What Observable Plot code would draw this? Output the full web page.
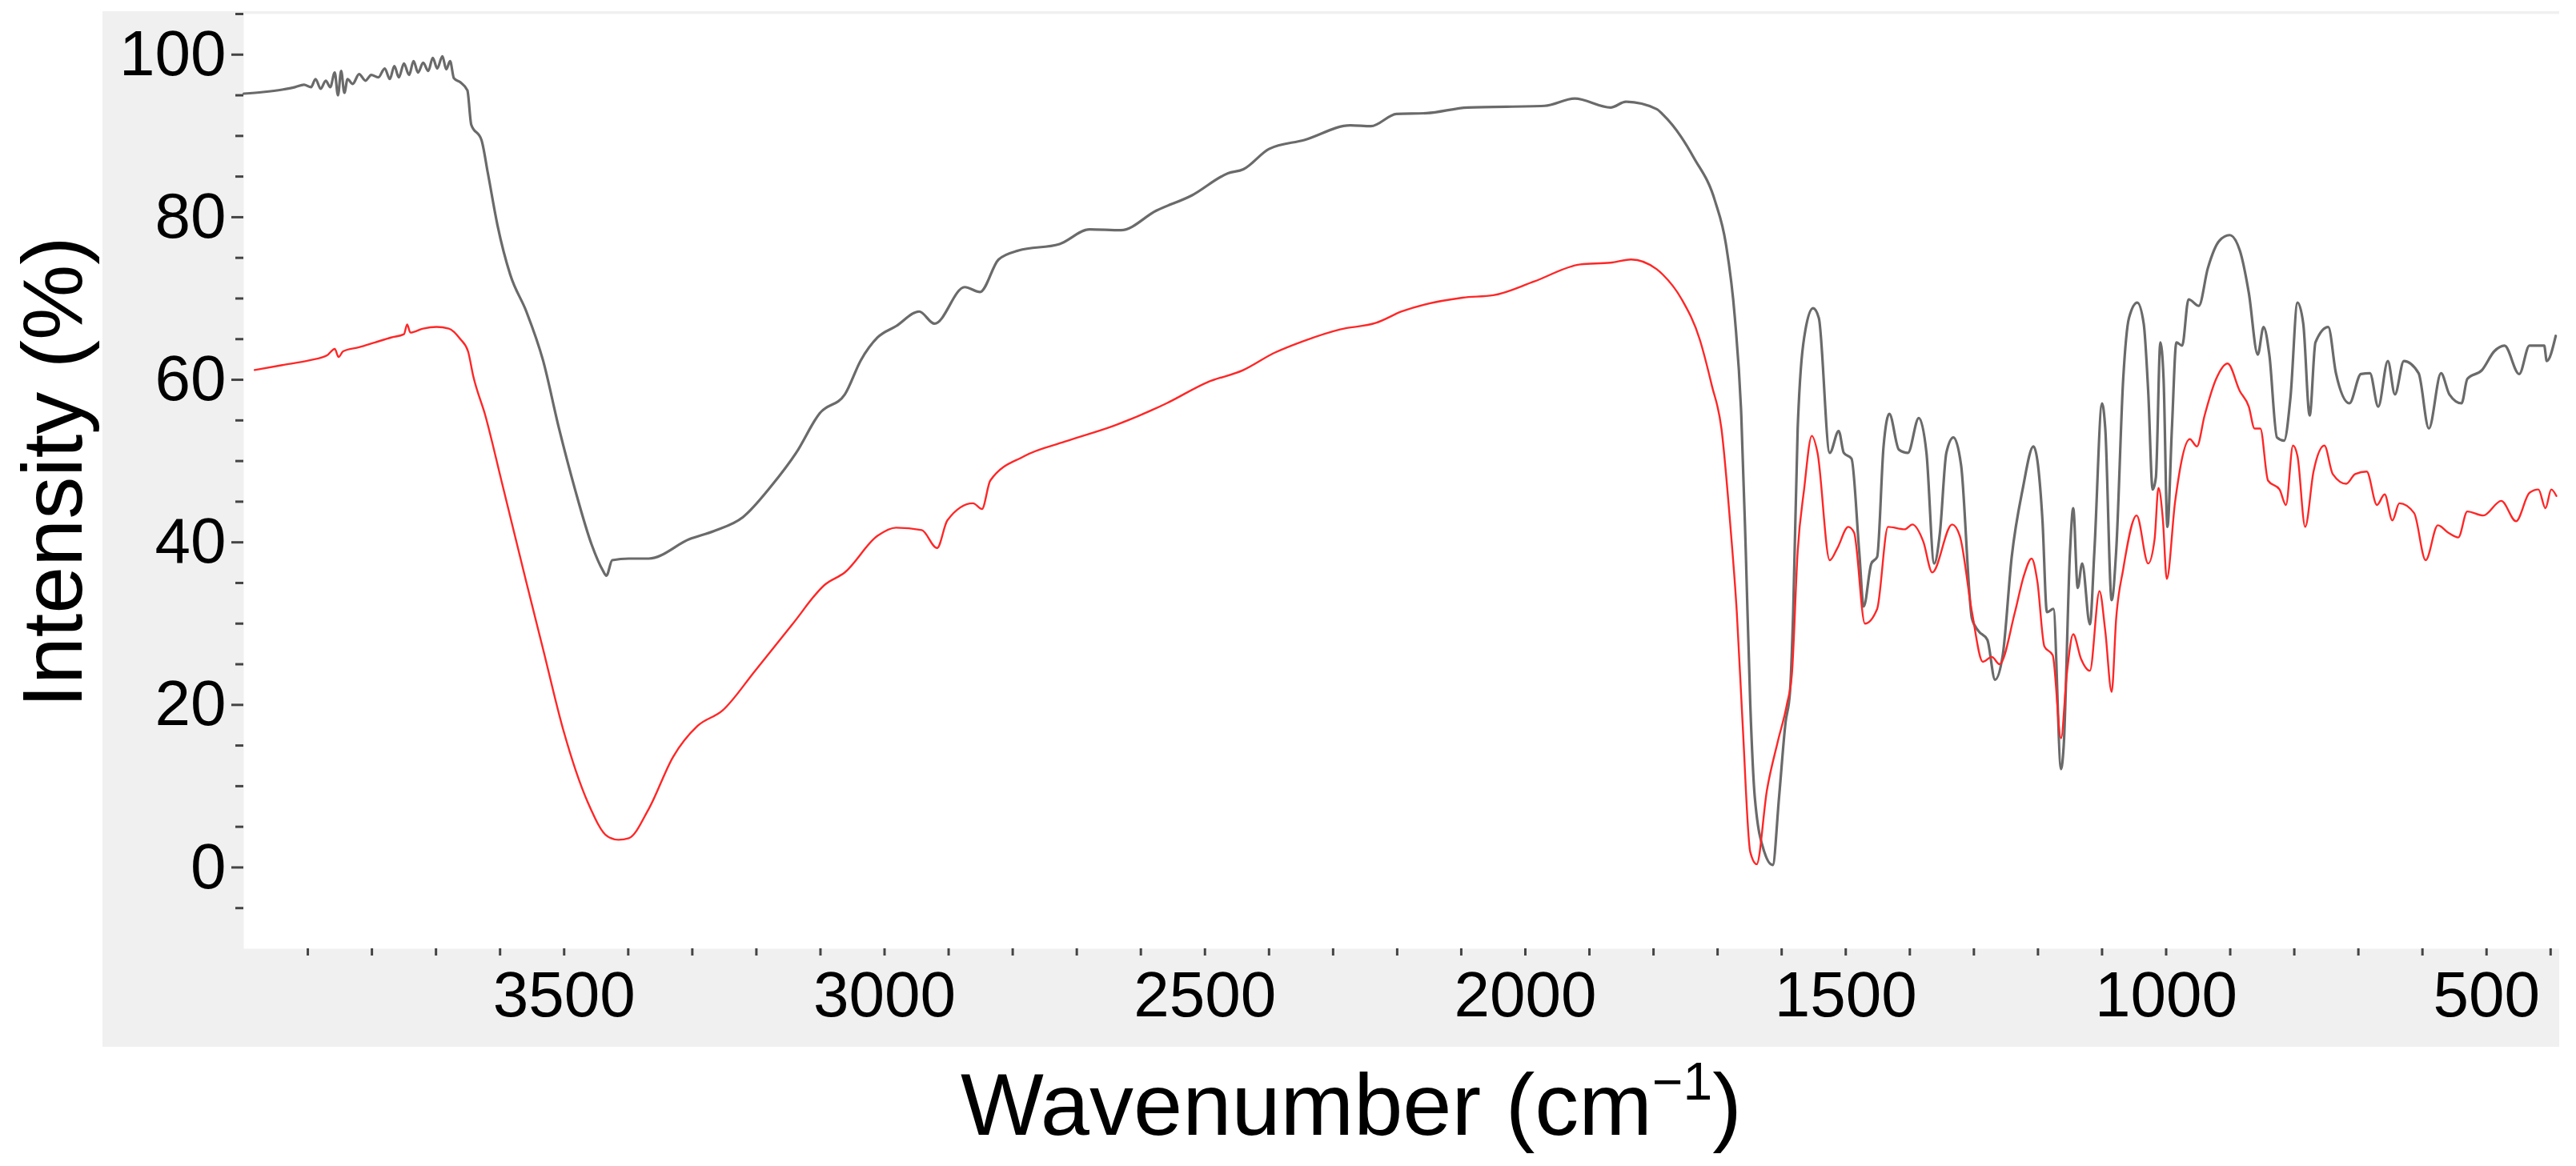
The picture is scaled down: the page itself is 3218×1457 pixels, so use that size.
<!DOCTYPE html>
<html>
<head>
<meta charset="utf-8">
<script src="https://cdn.jsdelivr.net/npm/d3@7"></script>
<script src="https://cdn.jsdelivr.net/npm/@observablehq/plot@0.6"></script>
<style>
  html, body { margin: 0; padding: 0; background: white; overflow: hidden; }
</style>
</head>
<body>
<div id="chart"></div>
<script>
// ---- Data ----
const grayWavenumber = [4000,3970,3940,3920,3906,3895,3888,3880,3872,3865,3858,3853,3848,3843,3838,3830,3820,3810,3801,3790,3780,3772,3765,3758,3750,3742,3735,3728,3720,3712,3705,3698,3690,3684,3678,3672,3662,3651,3645,3629,3619,3604,3584,3559,3533,3508,3483,3457,3440,3434,3425,3399,3368,3304,3266,3221,3177,3138,3101,3062,3037,3011,2982,2946,2922,2875,2851,2822,2791,2727,2680,2631,2576,2520,2464,2440,2400,2345,2273,2241,2201,2154,2090,1970,1923,1867,1843,1795,1785,1757,1737,1704,1687,1673,1663,1656,1649,1642,1627,1614,1604,1594,1587,1582,1575,1563,1551,1542,1525,1511,1503,1491,1479,1472,1460,1451,1441,1432,1417,1403,1386,1374,1362,1353,1343,1332,1320,1303,1293,1279,1267,1255,1241,1224,1207,1193,1186,1176,1164,1160,1150,1145,1138,1131,1119,1112,1100,1095,1085,1078,1067,1058,1045,1035,1028,1021,1016,1009,1004,998,991,984,975,965,949,935,917,901,885,871,857,848,839,827,816,806,795,786,776,767,747,735,714,696,682,669,654,643,629,606,590,571,558,539,530,507,488,472,449,433,410,406,392];
const grayIntensity = [95.2,95.4,95.7,96.0,96.3,96.0,97.0,95.8,96.8,96.0,97.8,95.0,98.0,95.3,97.0,96.4,97.6,96.8,97.5,97.2,98.3,97.0,98.6,97.2,98.9,97.5,99.2,97.8,99.0,98.0,99.6,98.3,99.8,98.2,99.2,97.1,96.6,95.6,91.4,89.5,85.4,79.0,72.9,68.4,62.4,54.0,46.5,39.7,36.6,35.9,37.8,38.0,38.0,40.4,41.4,43.1,46.9,51.0,55.9,58.2,62.4,65.2,66.6,68.4,66.9,71.4,70.8,74.8,75.9,76.7,78.5,78.4,80.8,82.7,85.4,85.9,88.4,89.5,91.3,91.2,92.7,92.8,93.5,93.7,94.6,93.5,94.2,93.3,92.6,89.9,87.3,82.0,76.7,67.6,55.6,38.9,20.1,8.7,1.9,0.3,8.7,17.8,21.6,31.4,54.0,66.1,68.8,67.6,51.0,53.7,51.0,50.3,38.9,32.1,37.4,38.2,51.8,55.8,51.4,51.0,55.3,51.0,37.4,41.2,51.0,52.9,49.5,30.6,29.1,28.0,23.1,26.1,38.2,46.5,51.8,42.7,31.4,31.8,12.1,14.8,38.9,44.2,34.4,37.4,29.9,38.9,57.1,54.0,32.9,38.9,60.1,67.6,69.5,66.9,58.6,46.5,48.0,64.6,60.1,41.9,54.0,64.6,64.2,69.9,69.1,73.7,77.1,77.8,75.9,70.7,63.1,66.5,63.1,52.9,52.5,57.8,69.5,66.9,55.6,64.6,66.5,60.8,57.1,60.7,60.8,56.7,62.3,58.2,62.3,60.8,54.0,60.8,58.2,57.1,60.1,61.2,63.5,64.2,60.7,64.2,64.2,62.3,65.4];

const redWavenumber = [3983,3940,3897,3870,3858,3852,3845,3820,3795,3770,3750,3745,3740,3720,3699,3680,3662,3650,3642,3623,3597,3559,3533,3502,3463,3432,3415,3399,3368,3330,3292,3253,3202,3144,3093,3062,3011,2982,2942,2918,2902,2862,2848,2835,2782,2718,2640,2560,2496,2440,2392,2345,2289,2233,2193,2098,2050,1986,1914,1867,1835,1795,1785,1756,1728,1709,1694,1680,1670,1661,1649,1639,1623,1606,1592,1584,1575,1565,1553,1544,1525,1513,1496,1487,1470,1451,1434,1408,1396,1379,1365,1334,1322,1303,1286,1272,1260,1236,1222,1210,1201,1190,1177,1164,1155,1145,1133,1119,1104,1095,1085,1078,1067,1046,1028,1018,1012,1005,999,986,963,952,940,922,904,885,871,862,853,841,823,813,802,795,783,770,753,740,719,705,687,671,659,647,636,613,595,576,560,544,530,505,477,454,433,419,408,399,391];
const redIntensity = [61.2,61.8,62.4,63.0,63.8,62.8,63.5,64.0,64.6,65.2,65.6,66.8,65.8,66.3,66.5,66.3,65.0,63.5,60.5,55.6,47.3,35.1,26.9,17.1,8.0,3.8,3.4,3.6,7.2,13.6,17.4,19.3,24.2,29.9,34.8,36.3,40.8,41.8,41.5,39.3,42.7,44.8,44.1,47.6,50.6,52.4,54.4,57.1,59.7,61.2,63.3,64.8,66.2,67.0,68.4,70.1,70.4,72.1,74.2,74.4,74.8,73.6,72.9,69.9,65.0,59.3,54.0,42.0,31.4,17.8,1.9,0.4,9.5,15.5,20.0,23.8,38.9,46.5,53.1,51.0,37.8,39.3,41.9,41.2,30.0,31.8,41.9,41.6,42.2,40.1,36.3,42.2,40.8,31.4,25.3,25.9,25.0,31.4,35.9,38.0,35.2,27.2,26.1,15.9,23.8,28.7,25.7,24.2,34.0,29.1,21.6,30.6,36.7,43.3,37.4,40.4,46.7,42.7,35.5,45.0,52.7,51.8,55.6,60.1,62.0,58.6,56.7,54.0,54.0,47.6,46.5,44.6,51.9,50.6,41.9,48.7,51.9,48.4,47.2,48.4,48.7,44.6,45.9,42.7,44.8,43.6,37.8,42.1,41.2,40.6,43.8,43.3,45.1,42.6,46.1,46.5,44.2,46.5,45.7];

const xTickLabels = [3500, 3000, 2500, 2000, 1500, 1000, 500];
const xMinorTicks = d3.range(3900, 399, -100);
const yTickLabels = [0, 20, 40, 60, 80, 100];
const yMinorTicks = d3.range(-5, 106, 5).filter(v => v % 20 !== 0);

const grayData = grayWavenumber.map((w, i) => ({w, t: grayIntensity[i]}));
const redData = redWavenumber.map((w, i) => ({w, t: redIntensity[i]}));

const W = 3218, H = 1457;
const mL = 304, mR = 21, mT = 17, mB = 272;

const chart = Plot.plot({
  width: W,
  height: H,
  marginLeft: mL,
  marginRight: mR,
  marginTop: mT,
  marginBottom: mB,
  style: {background: "transparent", fontFamily: "'Liberation Sans', Arial, sans-serif", color: "black", overflow: "visible"},
  x: {domain: [4000, 386]},
  y: {domain: [-10, 105]},
  marks: [
    Plot.frame({fill: "white", stroke: "none"}),
    Plot.axisY({ticks: yTickLabels, tickSize: 15, tickPadding: 7, fontSize: 80, label: null, stroke: "#444", strokeWidth: 3, tickFormat: d => String(d), fill: "black"}),
    Plot.axisY({ticks: yMinorTicks, tickSize: 10, text: null, label: null, stroke: "#444", strokeWidth: 3}),
    Plot.axisX({ticks: xMinorTicks, tickSize: 9, text: null, label: null, stroke: "#444", strokeWidth: 3}),
    Plot.axisX({ticks: xTickLabels, tickSize: 0, tickPadding: 28, fontSize: 80, label: null, tickFormat: d => String(d), fill: "black"}),
    Plot.line(grayData, {x: "w", y: "t", stroke: "#6a6a6a", strokeWidth: 3.2, curve: "monotone-x"}),
    Plot.line(redData, {x: "w", y: "t", stroke: "#ff2626", strokeWidth: 2.4, curve: "monotone-x"})
  ]
});

const svg = d3.select(chart);
// grey panel behind the plot
svg.insert("rect", ":first-child")
  .attr("x", 128).attr("y", 14)
  .attr("width", 3197 - 128).attr("height", 1308 - 14)
  .attr("fill", "#f0f0f0");

// axis titles
const xt = svg.append("text")
  .attr("x", 1688).attr("y", 1418)
  .attr("text-anchor", "middle")
  .attr("font-family", "'Liberation Sans', Arial, sans-serif")
  .attr("font-size", 110)
  .attr("fill", "black");
xt.append("tspan").text("Wavenumber (cm");
xt.append("tspan").attr("font-size", 66).attr("dy", -44).text("\u22121");
xt.append("tspan").attr("font-size", 110).attr("dy", 44).text(")");

svg.append("text")
  .attr("transform", "translate(102,590) rotate(-90)")
  .attr("text-anchor", "middle")
  .attr("font-family", "'Liberation Sans', Arial, sans-serif")
  .attr("font-size", 106)
  .attr("fill", "black")
  .text("Intensity (%)");

document.getElementById("chart").appendChild(chart);
</script>
</body>
</html>
